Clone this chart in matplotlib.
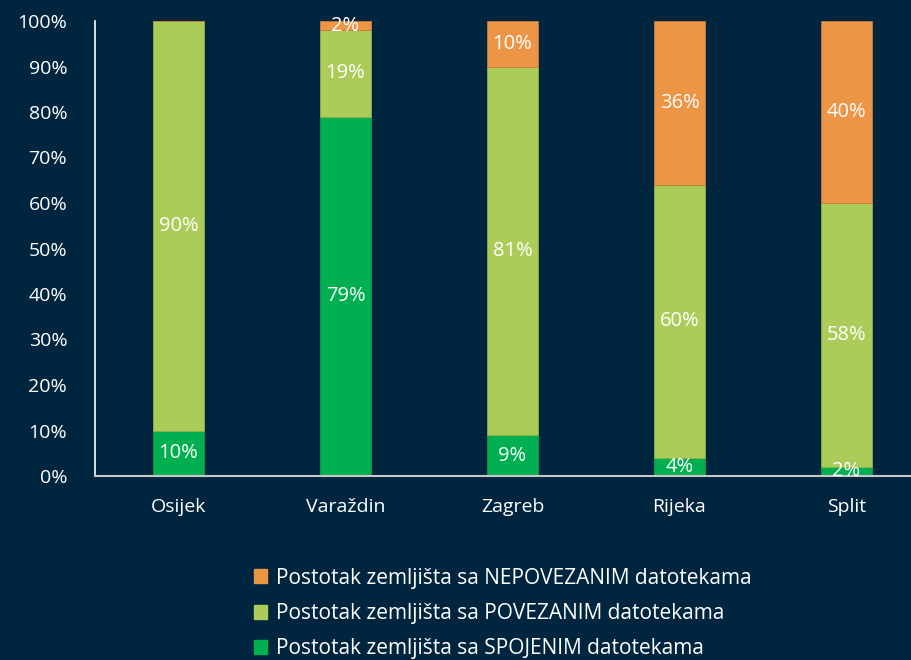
import numpy as np
import matplotlib.pyplot as plt
from matplotlib.patches import Patch

plt.rcParams['font.family'] = ['Open Sans', 'DejaVu Sans']

# podaci
gradovi = ["Osijek", "Varaždin", "Zagreb", "Rijeka", "Split"]
spojeni = [10, 79, 9, 4, 2]
povezani = [90, 19, 81, 60, 58]
nepovezani = [0, 2, 10, 36, 40]

naziv_nep = "Postotak zemljišta sa NEPOVEZANIM datotekama"
naziv_pov = "Postotak zemljišta sa POVEZANIM datotekama"
naziv_spo = "Postotak zemljišta sa SPOJENIM datotekama"

bg = "#00263f"
c_spo = "#00b050"
c_pov = "#abcc58"
c_nep = "#eb9545"

fig = plt.figure(figsize=(9.12, 6.6), dpi=100, facecolor=bg)
ax = fig.add_axes([95 / 912, 184 / 660, 835 / 912, 455 / 660])
ax.set_facecolor(bg)

x = np.arange(len(gradovi))
w = 0.31
spo = np.array(spojeni)
pov = np.array(povezani)
nep = np.array(nepovezani)

serije = [
    (spo, np.zeros(5), c_spo, "#0f9a4a"),
    (pov, spo, c_pov, "#8fb04a"),
    (nep, spo + pov, c_nep, "#c97a3a"),
]
for vals, dno, boja, rub in serije:
    ax.bar(x, vals, w, bottom=dno, color=boja, edgecolor=rub, linewidth=0.6)
    for xi, v, d in zip(x, vals, dno):
        if v > 0:
            ax.text(xi, d + v / 2, f"{v}%", ha="center", va="center",
                    color="white", fontsize=14.5)

ax.set_xlim(-0.5, 4.5)
ax.set_ylim(0, 100)
ax.set_yticks(np.arange(0, 101, 10))
ax.set_yticklabels([f"{t}%" for t in range(0, 101, 10)])
ax.set_xticks(x)
ax.set_xticklabels(gradovi)
ax.tick_params(colors="white", labelsize=14, length=0)
ax.tick_params(axis="y", pad=20)
ax.tick_params(axis="x", pad=16)
for s in ["top", "right"]:
    ax.spines[s].set_visible(False)
ax.spines["left"].set_color("white")
ax.spines["left"].set_linewidth(1.2)
ax.spines["bottom"].set_color("#c8c8c8")
ax.spines["bottom"].set_linewidth(1.5)

handles = [Patch(color=c_nep), Patch(color=c_pov), Patch(color=c_spo)]
leg = fig.legend(handles, [naziv_nep, naziv_pov, naziv_spo],
                 loc="upper left", bbox_to_anchor=(235 / 912, 1 - 549 / 660),
                 frameon=False, fontsize=15, labelcolor="white",
                 handlelength=0.65, handleheight=0.65, handletextpad=0.4,
                 labelspacing=0.68)

fig.savefig("out.png", dpi=100, facecolor=bg)
